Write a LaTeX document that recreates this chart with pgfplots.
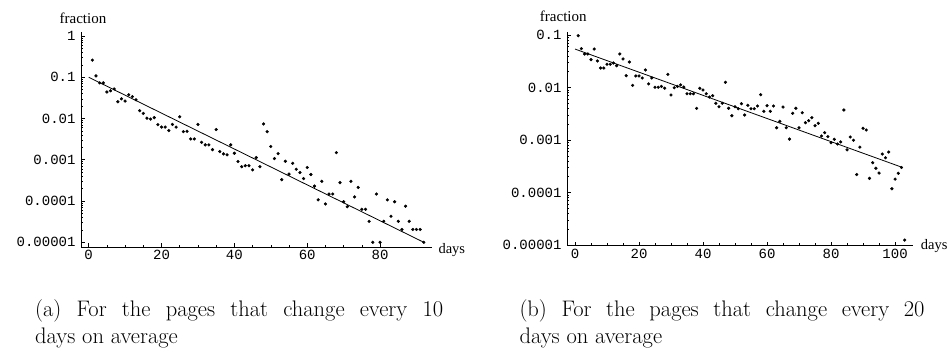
\documentclass[border=0pt]{standalone}
\usepackage{fontspec}
\usepackage{pgfplots}
\pgfplotsset{compat=1.18}
\newfontfamily\mono{Liberation Mono}
\newfontfamily\tms{Liberation Serif}

\pgfplotstableread{
day frac
1 0.26
2 0.108
3 0.073
4 0.073
5 0.044
6 0.047
7 0.052
8 0.0255
9 0.030
10 0.0265
11 0.0376
12 0.034
13 0.0285
14 0.0155
15 0.0133
16 0.0102
17 0.0097
18 0.0105
19 0.0071
20 0.0062
21 0.0062
22 0.0051
23 0.0072
24 0.0062
25 0.011
26 0.0048
27 0.0049
28 0.0032
29 0.0032
30 0.0072
31 0.00265
32 0.0023
33 0.0023
34 0.00176
35 0.0054
36 0.00158
37 0.00139
38 0.00132
39 0.0023
40 0.00144
41 0.00091
42 0.00068
43 0.00072
44 0.00072
45 0.00057
46 0.00113
47 0.00068
48 0.0074
49 0.0048
50 0.0021
51 0.00107
52 0.00141
53 0.00033
54 0.00092
55 0.00045
56 0.00082
57 0.00059
58 0.00049
59 0.00035
60 0.00065
61 0.00044
62 0.00023
63 0.000107
64 0.00030
65 0.000085
66 0.000148
67 0.000148
68 0.00149
69 0.00028
70 0.000096
71 0.000073
72 0.00030
73 0.000126
74 0.000214
75 0.000063
76 0.000063
77 0.0000322
78 0.0000100
79 0.000148
80 0.0000100
81 0.0000322
82 0.000107
83 0.0000427
84 0.000096
85 0.0000322
86 0.0000205
87 0.000075
88 0.0000322
89 0.0000205
90 0.0000205
91 0.0000205
92 0.0000100
}\dataA

\pgfplotstableread{
day frac
1 0.097
2 0.055
3 0.0435
4 0.0435
5 0.034
6 0.054
7 0.032
8 0.0235
9 0.0235
10 0.0277
11 0.0277
12 0.0293
13 0.026
14 0.0435
15 0.035
16 0.0168
17 0.0306
18 0.011
19 0.0166
20 0.0166
21 0.0152
22 0.0216
23 0.0117
24 0.0152
25 0.0101
26 0.0101
27 0.0105
28 0.0097
29 0.0178
30 0.0072
31 0.0099
32 0.0105
33 0.0112
34 0.0102
35 0.0076
36 0.0076
37 0.0076
38 0.0040
39 0.00966
40 0.00896
41 0.00762
42 0.00659
43 0.00698
44 0.0050
45 0.0043
46 0.0050
47 0.01256
48 0.00402
49 0.0029
50 0.0043
51 0.00394
52 0.00491
53 0.00299
54 0.00458
55 0.00394
56 0.00394
57 0.00444
58 0.0073
59 0.00352
60 0.0045
61 0.00352
62 0.00444
63 0.00171
64 0.00227
65 0.00425
66 0.00171
67 0.00104
68 0.00323
69 0.00402
70 0.00171
71 0.00331
72 0.00214
73 0.00233
74 0.00266
75 0.00187
76 0.00208
77 0.00119
78 0.00138
79 0.00116
80 0.00089
81 0.00103
82 0.00084
83 0.00092
84 0.00373
85 0.00065
86 0.00114
87 0.00099
88 0.00022
89 0.00073
90 0.00167
91 0.00155
92 0.000186
93 0.00037
94 0.00029
95 0.000235
96 0.00054
97 0.00046
98 0.00059
99 0.000118
100 0.00018
101 0.000232
102 0.0003
103 0.0000124
}\dataB

\begin{document}
\begin{tikzpicture}
\useasboundingbox (0,0) rectangle (952pt,-348pt);

% ---------- (a) ----------
\begin{axis}[
  scale only axis,
  ymode=log,
  axis x line=bottom, axis y line=left,
  axis line style={-, line width=0.8pt},
  tick align=inside,
  major tick length=4pt, minor tick length=2.2pt,
  tick style={black, line width=0.6pt},
  ticklabel style={font=\mono\fontsize{14}{14}\selectfont},
  yticklabel style={xshift=-2pt},
  minor x tick num=3,
  minor ytick={2e-5,3e-5,4e-5,5e-5,6e-5,7e-5,8e-5,9e-5,2e-4,3e-4,4e-4,5e-4,6e-4,7e-4,8e-4,9e-4,2e-3,3e-3,4e-3,5e-3,6e-3,7e-3,8e-3,9e-3,0.02,0.03,0.04,0.05,0.06,0.07,0.08,0.09,0.2,0.3,0.4,0.5,0.6,0.7,0.8,0.9},
  clip=false,
  at={(81pt,-247pt)}, anchor=south west,
  width=351pt, height=215pt,
  xmin=-2.11, xmax=94.26,
  ymin=7.69e-6, ymax=1.25,
  xtick={0,20,40,60,80}, xticklabels={0,20,40,60,80},
  ytick={1e-5,1e-4,1e-3,1e-2,1e-1,1},
  yticklabels={0.00001,0.0001,0.001,0.01,0.1,1},
]
\addplot[black, line width=0.8pt, no marks] coordinates {(0,0.1) (92,1e-5)};
\addplot[only marks, mark=*, mark size=1.4pt, black] table[x=day,y=frac] {\dataA};
\end{axis}

% ---------- (b) ----------
\begin{axis}[
  scale only axis,
  ymode=log,
  axis x line=bottom, axis y line=left,
  axis line style={-, line width=0.8pt},
  tick align=inside,
  major tick length=4pt, minor tick length=2.2pt,
  tick style={black, line width=0.6pt},
  ticklabel style={font=\mono\fontsize{14}{14}\selectfont},
  yticklabel style={xshift=-2pt},
  minor x tick num=3,
  minor ytick={2e-5,3e-5,4e-5,5e-5,6e-5,7e-5,8e-5,9e-5,2e-4,3e-4,4e-4,5e-4,6e-4,7e-4,8e-4,9e-4,2e-3,3e-3,4e-3,5e-3,6e-3,7e-3,8e-3,9e-3,0.02,0.03,0.04,0.05,0.06,0.07,0.08,0.09},
  clip=false,
  at={(567pt,-245.5pt)}, anchor=south west,
  width=346pt, height=213.8pt,
  xmin=-2.5, xmax=105.6,
  ymin=9.78e-6, ymax=0.1156,
  xtick={0,20,40,60,80,100}, xticklabels={0,20,40,60,80,100},
  ytick={1e-5,1e-4,1e-3,1e-2,1e-1},
  yticklabels={0.00001,0.0001,0.001,0.01,0.1},
]
\addplot[black, line width=0.8pt, no marks] coordinates {(0,0.054) (102.3,0.0003)};
\addplot[only marks, mark=*, mark size=1.4pt, black] table[x=day,y=frac] {\dataB};
\end{axis}

% axis titles
\node[anchor=base, inner sep=0, font=\tms\fontsize{15}{15}\selectfont] at (83pt,-23pt) {fraction};
\node[anchor=base, inner sep=0, font=\tms\fontsize{15}{15}\selectfont] at (563.3pt,-21.7pt) {fraction};
\node[anchor=base west, inner sep=0, font=\tms\fontsize{14.5}{14.5}\selectfont] at (438.3pt,-253.5pt) {days};
\node[anchor=base west, inner sep=0, font=\tms\fontsize{14.5}{14.5}\selectfont] at (920.7pt,-249pt) {days};

% captions
\node[anchor=base west, inner sep=0, font=\fontsize{22.5}{27}\selectfont] at (35pt,-316pt) {\makebox[408pt][s]{(a) For the pages that change every 10}};
\node[anchor=base west, inner sep=0, font=\fontsize{22.5}{27}\selectfont] at (35pt,-343pt) {days on average};
\node[anchor=base west, inner sep=0, font=\fontsize{22.5}{27}\selectfont] at (519.3pt,-316pt) {\makebox[405pt][s]{(b) For the pages that change every 20}};
\node[anchor=base west, inner sep=0, font=\fontsize{22.5}{27}\selectfont] at (519.3pt,-343pt) {days on average};
\end{tikzpicture}
\end{document}
